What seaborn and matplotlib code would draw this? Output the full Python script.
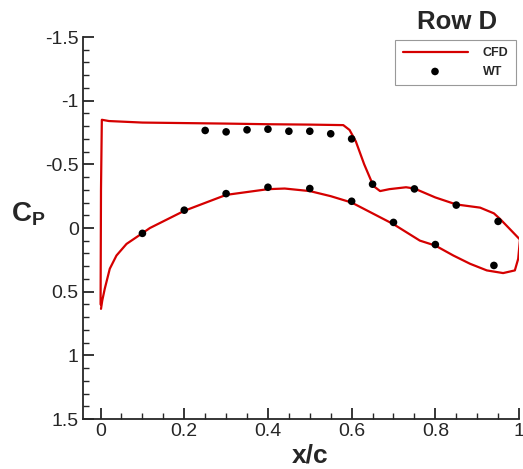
import matplotlib
matplotlib.use("Agg")
import matplotlib.pyplot as plt
import seaborn as sns
import pandas as pd
from matplotlib.ticker import MultipleLocator

# CFD pressure distribution, traced around the section (LE -> upper -> TE -> lower -> LE)
cfd_x = [0.0, 0.001, 0.003, 0.02, 0.1, 0.2, 0.3, 0.4, 0.5, 0.58, 0.595,
         0.61, 0.63, 0.652, 0.668, 0.69, 0.73, 0.75, 0.80, 0.85, 0.907, 0.94,
         0.955, 0.978, 1.002, 1.002, 0.998, 0.99, 0.962, 0.923, 0.883, 0.843,
         0.80, 0.763, 0.70, 0.60, 0.55, 0.50, 0.44, 0.40, 0.30, 0.20, 0.118,
         0.098, 0.062, 0.038, 0.022, 0.010, 0.004, 0.001]
cfd_cp = [0.60, -0.30, -0.85, -0.84, -0.828, -0.824, -0.82, -0.815, -0.812,
          -0.808, -0.77, -0.68, -0.50, -0.33, -0.29, -0.305, -0.32, -0.31, -0.24,
          -0.185, -0.16, -0.115, -0.07, 0.008, 0.09, 0.10, 0.242, 0.333, 0.354,
          0.333, 0.281, 0.216, 0.138, 0.099, -0.03, -0.20, -0.25, -0.29, -0.31,
          -0.305, -0.26, -0.135, 0.0, 0.045, 0.125, 0.216, 0.32, 0.477, 0.57, 0.635]

# wind tunnel taps
wt_x = [0.25, 0.30, 0.35, 0.40, 0.45, 0.50, 0.55, 0.60, 0.65, 0.75, 0.85, 0.95,
        0.10, 0.20, 0.30, 0.40, 0.50, 0.60, 0.70, 0.80, 0.94]
wt_cp = [-0.766, -0.755, -0.771, -0.776, -0.76, -0.76, -0.74, -0.70, -0.344, -0.307,
         -0.18, -0.052, 0.042, -0.14, -0.27, -0.32, -0.31, -0.21, -0.044, 0.13, 0.294]

cfd = pd.DataFrame({"x": cfd_x, "cp": cfd_cp})
wt = pd.DataFrame({"x": wt_x, "cp": wt_cp})

sns.set_style("ticks")
plt.rcParams["font.family"] = ["Liberation Sans", "DejaVu Sans"]
plt.rcParams["mathtext.fontset"] = "custom"
plt.rcParams["mathtext.rm"] = "Liberation Sans"
plt.rcParams["mathtext.bf"] = "Liberation Sans:bold"

fig = plt.figure(figsize=(5.23, 4.69), dpi=100)
ax = fig.add_axes([0.1587, 0.1066, 0.9924 - 0.1587, 0.9211 - 0.1066])

sns.lineplot(data=cfd, x="x", y="cp", sort=False, estimator=None, color="#d50000",
             linewidth=1.6, label="CFD", ax=ax)
sns.scatterplot(data=wt, x="x", y="cp", color="black", s=30, edgecolor="none",
                label="WT", ax=ax, zorder=3)

ax.set_xlim(-0.042, 1.0)
ax.set_ylim(1.5, -1.5)
ax.xaxis.set_minor_locator(MultipleLocator(0.05))
ax.yaxis.set_minor_locator(MultipleLocator(0.1))
ax.set_xticks([0, 0.2, 0.4, 0.6, 0.8, 1.0])
ax.set_xticklabels(["0", "0.2", "0.4", "0.6", "0.8", "1"])
ax.set_yticks([-1.5, -1, -0.5, 0, 0.5, 1, 1.5])
ax.set_yticklabels(["-1.5", "-1", "-0.5", "0", "0.5", "1", "1.5"])
ax.tick_params(which="major", direction="in", length=8, width=1.3, labelsize=14, pad=3)
ax.tick_params(which="minor", direction="in", length=4, width=1.0)
for s in ["left", "bottom"]:
    ax.spines[s].set_linewidth(1.3)
sns.despine(ax=ax)

ax.set_xlabel("x/c", fontsize=19, fontweight="bold")
ax.xaxis.set_label_coords(0.52, -0.065)
ax.set_ylabel(r"$\mathbf{C_P}$", fontsize=20, rotation=0)
ax.yaxis.set_label_coords(-0.125, 0.5)

leg = ax.legend(loc="upper left", bbox_to_anchor=(395 / 523, 1 - 40 / 469),
                bbox_transform=fig.transFigure, borderaxespad=0, fontsize=9,
                frameon=True, handlelength=5.2, handletextpad=1.2, borderpad=0.6,
                labelspacing=0.5, fancybox=False)
leg.get_frame().set_edgecolor("#808080")
leg.get_frame().set_linewidth(0.8)
for t in leg.get_texts():
    t.set_fontweight("bold")

fig.text(0.874, 0.953, "Row D", ha="center", va="center", fontsize=18.5, fontweight="bold")

fig.savefig("out.png", dpi=100)
